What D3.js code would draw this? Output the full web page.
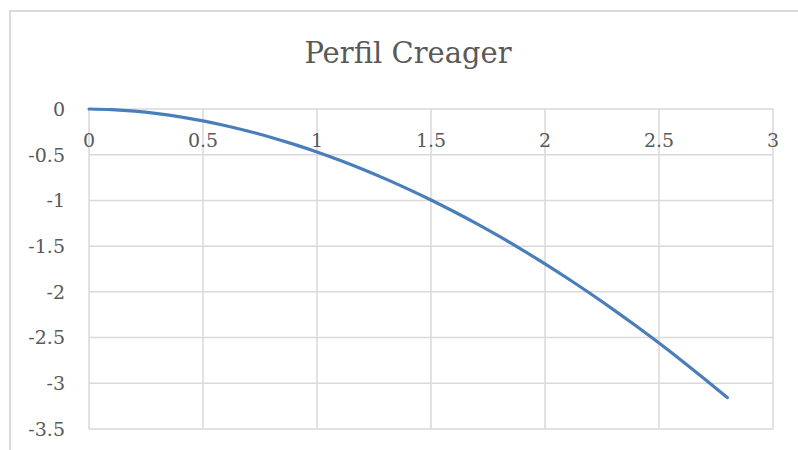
<!DOCTYPE html>
<html>
<head>
<meta charset="utf-8">
<script src="https://cdn.jsdelivr.net/npm/d3@7"></script>
<style>
  body { margin: 0; background: #fff; }
  text { font-family: "DejaVu Serif", serif; fill: #595959; }
</style>
</head>
<body>
<div id="chart"></div>
<script>
// Datos (perfil Creager)
const xValues = [0, 0.1, 0.2, 0.3, 0.4, 0.5, 0.6, 0.7, 0.8, 0.9, 1.0, 1.1, 1.2, 1.3, 1.4,
                 1.5, 1.6, 1.7, 1.8, 1.9, 2.0, 2.1, 2.2, 2.3, 2.4, 2.5, 2.6, 2.7, 2.8];
const yValues = [0, -0.007, -0.024, -0.051, -0.086, -0.13, -0.183, -0.243, -0.311, -0.387, -0.47,
                 -0.561, -0.659, -0.764, -0.876, -0.995, -1.121, -1.254, -1.394, -1.541, -1.694,
                 -1.854, -2.021, -2.194, -2.374, -2.56, -2.753, -2.952, -3.157];
const xTicks = [0, 0.5, 1, 1.5, 2, 2.5, 3];
const yTicks = [0, -0.5, -1, -1.5, -2, -2.5, -3, -3.5];
const title = 'Perfil Creager';

const width = 798;
const height = 450;
const margin = { left: 89, right: 25, top: 109, bottom: 21 };

const svg = d3.select('#chart')
    .append('svg')
    .attr('width', width)
    .attr('height', height);

// Marco del grafico
svg.append('rect')
    .attr('x', 10)
    .attr('y', 11)
    .attr('width', width + 20)
    .attr('height', height + 20)
    .attr('fill', '#fff')
    .attr('stroke', '#d9d9d9')
    .attr('stroke-width', 2);

const x = d3.scaleLinear()
    .domain([0, 3])
    .range([margin.left, width - margin.right]);

const y = d3.scaleLinear()
    .domain([-3.5, 0])
    .range([height - margin.bottom, margin.top]);

// Lineas de cuadricula
svg.append('g')
    .selectAll('line')
    .data(xTicks)
    .enter()
    .append('line')
    .attr('x1', d => x(d))
    .attr('x2', d => x(d))
    .attr('y1', y(0))
    .attr('y2', y(-3.5))
    .attr('stroke', '#d9d9d9')
    .attr('stroke-width', 1.5);

svg.append('g')
    .selectAll('line')
    .data(yTicks)
    .enter()
    .append('line')
    .attr('x1', x(0))
    .attr('x2', x(3))
    .attr('y1', d => y(d))
    .attr('y2', d => y(d))
    .attr('stroke', '#d9d9d9')
    .attr('stroke-width', 1.5);

// Etiquetas de los ejes
svg.append('g')
    .selectAll('text')
    .data(xTicks)
    .enter()
    .append('text')
    .attr('x', d => x(d))
    .attr('y', y(0) + 38)
    .attr('text-anchor', 'middle')
    .style('font-size', '19px')
    .text(d => d);

svg.append('g')
    .selectAll('text')
    .data(yTicks)
    .enter()
    .append('text')
    .attr('x', 65)
    .attr('y', d => y(d))
    .attr('dy', '0.36em')
    .attr('text-anchor', 'end')
    .style('font-size', '19px')
    .text(d => d);

// Curva
const line = d3.line()
    .x((d, i) => x(xValues[i]))
    .y(d => y(d))
    .curve(d3.curveMonotoneX);

svg.append('path')
    .datum(yValues)
    .attr('d', line)
    .attr('fill', 'none')
    .attr('stroke', '#4a7ebb')
    .attr('stroke-width', 3.2)
    .attr('stroke-linecap', 'round');

// Titulo
svg.append('text')
    .attr('x', 408)
    .attr('y', 63)
    .attr('text-anchor', 'middle')
    .style('font-size', '29px')
    .text(title);
</script>
</body>
</html>
